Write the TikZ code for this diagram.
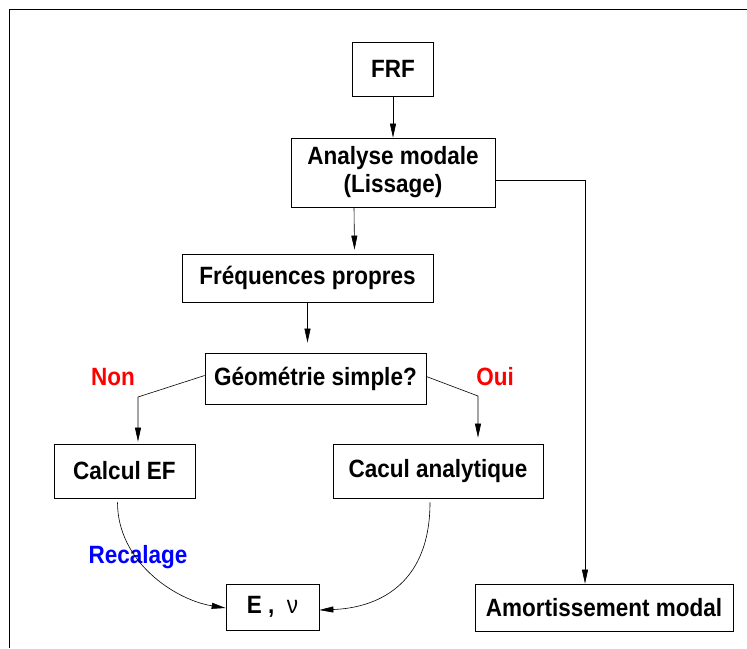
\documentclass[tikz,border=0pt]{standalone}
\usepackage{fontspec}
\setmainfont{Liberation Sans}[FakeStretch=0.9]
\usetikzlibrary{arrows.meta, calc}

\begin{document}
\begin{tikzpicture}[x=1pt, y=-1pt,
  boite/.style={rectangle, draw, line width=0.7pt, inner sep=0pt,
    align=center, font=\fontsize{25}{28}\selectfont\bfseries},
  reponse/.style={font=\fontsize{25}{28}\selectfont\bfseries},
  fleche/.style={draw, line width=0.6pt, -{Triangle[length=14pt, width=6pt]}}
]
\useasboundingbox (0,0) rectangle (747,648);
\draw[line width=0.6pt] (9,648) |- (747,9);

% boites
\node[boite, minimum width=81, minimum height=54] (frf) at (393,69) {FRF};
\node[boite, minimum width=204, minimum height=69] (ana) at (393,172.5) {Analyse modale\\(Lissage)};
\node[boite, minimum width=251, minimum height=48] (freq) at (307.5,278) {Fréquences propres};
\node[boite, minimum width=221, minimum height=51] (geo) at (315.5,378.5) {Géométrie simple?};
\node[boite, minimum width=141, minimum height=54] (cef) at (124.5,471) {Calcul EF};
\node[boite, minimum width=210, minimum height=54] (cana) at (438,471) {Cacul analytique};
\node[boite, minimum width=93, minimum height=46] (enu) at (272.5,607) {E ,\ \ {\mdseries ν}};
\node[boite, minimum width=258, minimum height=47] (amort) at (604,607.5) {Amortissement modal};

% etiquettes
\node[reponse, text=red] (non) at (113,377) {Non};
\node[reponse, text=red] (oui) at (495,377) {Oui};
\node[reponse, text=blue] (recal) at (138,557) {Recalage};

% liaisons
\coordinate (coudeG) at (138,397);
\coordinate (coudeD) at (478,396);
\coordinate (coudeA) at (585,180);
\draw[fleche] (frf) -- (ana);
\draw[fleche] ($(ana.south)+(-39,0)$) -- ($(freq.north)+(47,-4)$);
\draw[fleche, shorten >=10pt] (freq.south) -- (freq.south |- geo.north);
\draw[fleche, shorten >=2pt] ($(geo.west)+(0,-3)$) -- (coudeG) -- (coudeG |- cef.north);
\draw[fleche, shorten >=6pt] ($(geo.east)+(0,-2)$) -- (coudeD) -- (coudeD |- cana.north);
\draw[fleche] ($(ana.east)+(0,7.5)$) -- (coudeA) -- (coudeA |- amort.north);
\draw[fleche] ($(cef.south)+(-7,4)$) .. controls +(0,60) and +(-50,-8) .. ($(enu.west)+(0,1)$);
\draw[fleche] ($(cana.south)+(-8,4)$) .. controls +(0,85) and +(55,-2) .. ($(enu.east)+(0,3)$);

\end{tikzpicture}
\end{document}
